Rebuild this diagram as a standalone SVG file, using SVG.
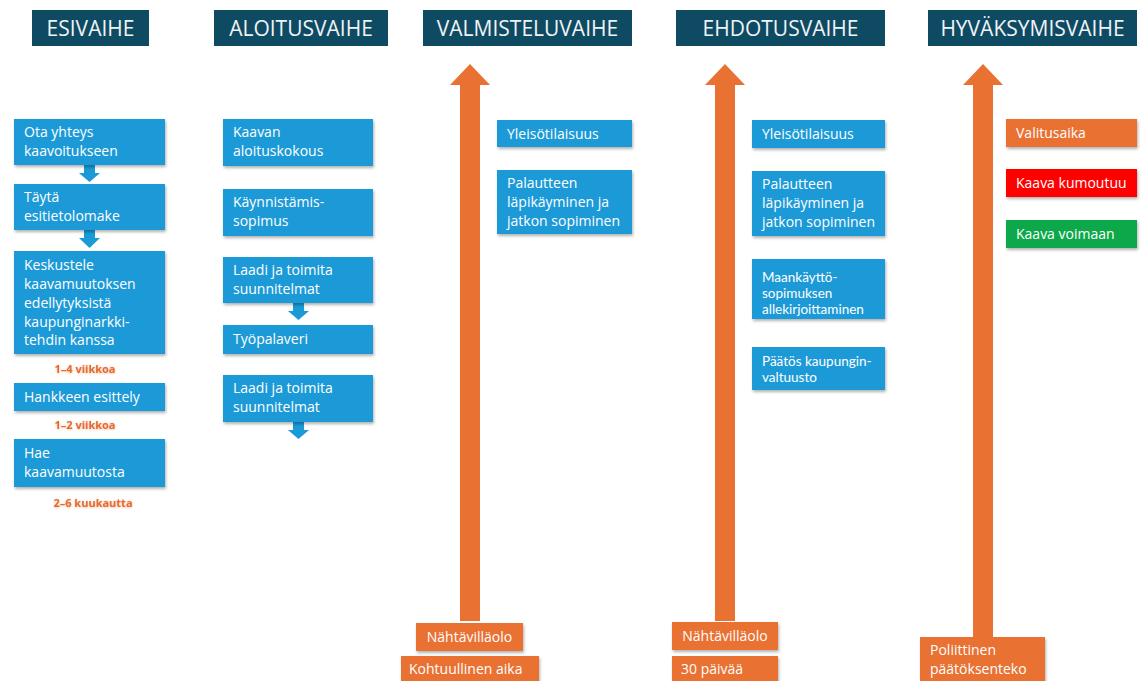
<svg xmlns="http://www.w3.org/2000/svg" width="1143" height="681" viewBox="0 0 1143 681">
  <defs>
    <filter id="sh" x="-10%" y="-20%" width="125%" height="150%">
      <feDropShadow dx="1" dy="2" stdDeviation="1.4" flood-color="#000" flood-opacity="0.3"/>
    </filter>
    <filter id="glow" x="-10%" y="-30%" width="120%" height="160%">
      <feDropShadow dx="0" dy="0.5" stdDeviation="0.8" flood-color="#E97132" flood-opacity="0.5"/>
    </filter>
    <style>
      text{font-family:"Open Sans","Liberation Sans",sans-serif}
      .hdr{fill:#0E4A62}
      .ht{font-size:21px;fill:#EEF3F6;text-anchor:middle}
      .box{fill:#1A9AD7;filter:url(#sh)}
      .obox{fill:#E97132;filter:url(#sh)}
      .rbox{fill:#FF0000;filter:url(#sh)}
      .gbox{fill:#0FA84A;filter:url(#sh)}
      .t{font-size:14px;fill:#FFFFFF}
      .ts{font-family:Lato,"Open Sans",sans-serif;font-size:13.5px;fill:#FFFFFF}
      .lbl{font-size:11px;font-weight:bold;fill:#E36C33;text-anchor:middle;filter:url(#glow)}
      .bigarrow{fill:#E97132}
      .smallarrow{fill:#1A9AD7}
    </style>
  </defs>
  <rect width="1143" height="681" fill="#FFFFFF"/>

  <!-- phase headers -->
  <g id="h-esivaihe"><rect class="hdr" x="32" y="10" width="117" height="36"/><text class="ht" x="90.5" y="35.5">ESIVAIHE</text></g>
  <g id="h-aloitusvaihe"><rect class="hdr" x="214" y="10" width="174" height="36"/><text class="ht" x="301" y="35.5">ALOITUSVAIHE</text></g>
  <g id="h-valmisteluvaihe"><rect class="hdr" x="423" y="10" width="209" height="36"/><text class="ht" x="527.5" y="35.5">VALMISTELUVAIHE</text></g>
  <g id="h-ehdotusvaihe"><rect class="hdr" x="676" y="10" width="209" height="36"/><text class="ht" x="780.5" y="35.5">EHDOTUSVAIHE</text></g>
  <g id="h-hyvaksymisvaihe"><rect class="hdr" x="928" y="10" width="209" height="36"/><text class="ht" x="1032.5" y="35.5">HYVÄKSYMISVAIHE</text></g>

  <!-- arrows -->
  <g id="connectors">
    <polygon class="bigarrow" points="470,64 490,85 480,85 480,621 460,621 460,85 450,85"/>
    <polygon class="bigarrow" points="725,64 745,85 735,85 735,621 715,621 715,85 705,85"/>
    <polygon class="bigarrow" points="983,64 1003,85 993,85 993,638 973,638 973,85 963,85"/>
    <polygon class="smallarrow" points="84,165 95,165 95,173 100,173 89.5,182 79,173 84,173"/>
    <polygon class="smallarrow" points="84,230 95,230 95,238 100,238 89.5,248 79,238 84,238"/>
    <polygon class="smallarrow" points="293,303 304,303 304,311 309,311 298.5,320 288,311 293,311"/>
    <polygon class="smallarrow" points="293,422 304,422 304,430 309,430 298.5,439 288,430 293,430"/>
  </g>

  <!-- ESIVAIHE column -->
  <g id="n-ota-yhteys"><rect class="box" x="14" y="119" width="151" height="46"/><text class="t" x="24" y="137">Ota yhteys</text><text class="t" x="24" y="156">kaavoitukseen</text></g>
  <g id="n-tayta"><rect class="box" x="14" y="184" width="151" height="46"/><text class="t" x="24" y="202">Täytä</text><text class="t" x="24" y="221">esitietolomake</text></g>
  <g id="n-keskustele"><rect class="box" x="14" y="251" width="151" height="103"/>
    <text class="t" x="24" y="270">Keskustele</text>
    <text class="t" x="24" y="289">kaavamuutoksen</text>
    <text class="t" x="24" y="308">edellytyksistä</text>
    <text class="t" x="24" y="327">kaupunginarkki-</text>
    <text class="t" x="24" y="345">tehdin kanssa</text></g>
  <g id="l-1-4"><text class="lbl" x="85" y="373">1–4 viikkoa</text></g>
  <g id="n-hankkeen-esittely"><rect class="box" x="14" y="383" width="151" height="28"/><text class="t" x="24" y="402">Hankkeen esittely</text></g>
  <g id="l-1-2"><text class="lbl" x="85" y="429">1–2 viikkoa</text></g>
  <g id="n-hae"><rect class="box" x="14" y="439" width="151" height="48"/><text class="t" x="24" y="458">Hae</text><text class="t" x="24" y="477">kaavamuutosta</text></g>
  <g id="l-2-6"><text class="lbl" x="93" y="507">2–6 kuukautta</text></g>

  <!-- ALOITUSVAIHE column -->
  <g id="n-aloituskokous"><rect class="box" x="223" y="119" width="150" height="47"/><text class="t" x="233" y="137">Kaavan</text><text class="t" x="233" y="156">aloituskokous</text></g>
  <g id="n-kaynnistamis"><rect class="box" x="223" y="189" width="150" height="47"/><text class="t" x="233" y="207">Käynnistämis-</text><text class="t" x="233" y="226">sopimus</text></g>
  <g id="n-laadi-1"><rect class="box" x="223" y="257" width="150" height="46"/><text class="t" x="233" y="275">Laadi ja toimita</text><text class="t" x="233" y="294">suunnitelmat</text></g>
  <g id="n-tyopalaveri"><rect class="box" x="223" y="325" width="150" height="29"/><text class="t" x="233" y="344">Työpalaveri</text></g>
  <g id="n-laadi-2"><rect class="box" x="223" y="375" width="150" height="47"/><text class="t" x="233" y="393">Laadi ja toimita</text><text class="t" x="233" y="412">suunnitelmat</text></g>

  <!-- VALMISTELUVAIHE column -->
  <g id="n-yleiso-1"><rect class="box" x="497" y="120" width="135" height="27"/><text class="t" x="507" y="138.5">Yleisötilaisuus</text></g>
  <g id="n-palaute-1"><rect class="box" x="497" y="170" width="135" height="64"/><text class="t" x="507" y="188">Palautteen</text><text class="t" x="507" y="207">läpikäyminen ja</text><text class="t" x="507" y="226">jatkon sopiminen</text></g>
  <g id="n-nahtavilla-1"><rect class="obox" x="416" y="623" width="107" height="28"/><text class="t" x="469.5" y="642" text-anchor="middle">Nähtävilläolo</text></g>
  <g id="n-kohtuullinen"><rect class="obox" x="401" y="656" width="138" height="34"/><text class="t" x="409" y="674">Kohtuullinen aika</text></g>

  <!-- EHDOTUSVAIHE column -->
  <g id="n-yleiso-2"><rect class="box" x="752" y="120" width="133" height="28"/><text class="t" x="762" y="139">Yleisötilaisuus</text></g>
  <g id="n-palaute-2"><rect class="box" x="752" y="171" width="133" height="65"/><text class="t" x="762" y="189">Palautteen</text><text class="t" x="762" y="208">läpikäyminen ja</text><text class="t" x="762" y="227">jatkon sopiminen</text></g>
  <g id="n-maankaytto"><rect class="box" x="752" y="259" width="133" height="60"/><text class="ts" x="762" y="282">Maankäyttö-</text><text class="ts" x="762" y="298">sopimuksen</text><text class="ts" x="762" y="314">allekirjoittaminen</text></g>
  <g id="n-paatos"><rect class="box" x="752" y="347" width="133" height="43"/><text class="ts" x="762" y="366">Päätös kaupungin-</text><text class="ts" x="762" y="382">valtuusto</text></g>
  <g id="n-nahtavilla-2"><rect class="obox" x="672" y="622" width="106" height="28"/><text class="t" x="725" y="641" text-anchor="middle">Nähtävilläolo</text></g>
  <g id="n-30-paivaa"><rect class="obox" x="672" y="656" width="106" height="34"/><text class="t" x="681" y="674">30 päivää</text></g>

  <!-- HYVÄKSYMISVAIHE column -->
  <g id="n-valitusaika"><rect class="obox" x="1006" y="119" width="131" height="28"/><text class="t" x="1016" y="138">Valitusaika</text></g>
  <g id="n-kumoutuu"><rect class="rbox" x="1006" y="169" width="131" height="28"/><text class="t" x="1016" y="188">Kaava kumoutuu</text></g>
  <g id="n-voimaan"><rect class="gbox" x="1006" y="220" width="131" height="28"/><text class="t" x="1016" y="239">Kaava voimaan</text></g>
  <g id="n-poliittinen"><rect class="obox" x="920" y="637" width="125" height="53"/><text class="t" x="930" y="655">Poliittinen</text><text class="t" x="930" y="674">päätöksenteko</text></g>
</svg>
